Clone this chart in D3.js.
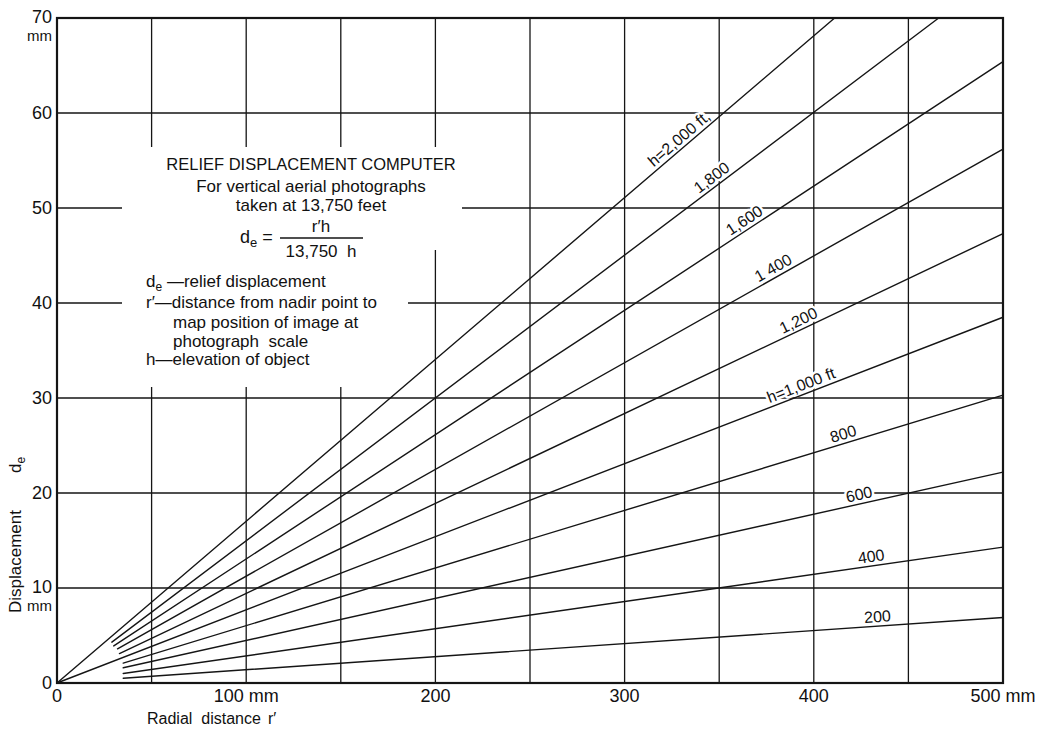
<!DOCTYPE html>
<html><head><meta charset="utf-8">
<script src="https://cdn.jsdelivr.net/npm/d3@7"></script>
<style>
body{margin:0;background:#fff}
svg{display:block}
text{font-family:"Liberation Sans",Arial,Helvetica,sans-serif;fill:#111;white-space:pre}
</style>
</head><body>
<svg id="c" width="1040" height="730"></svg>
<script>
// ---- data ----
const heights = [2000,1800,1600,1400,1200,1000,800,600,400,200];
const lineLabels = ["h=2,000 ft,","1,800","1,600","1 400","1,200","h=1,000 ft","800","600","400","200"];
const startR = [0,29,30,32,33,0,35,35,35,35];
const startD = [0,4.3,3.9,3.6,3.1,0,2.1,1.6,1.0,0.5];
const endR   = [411,466,500,500,500,500,500,500,500,500];
const endD   = [70,70,65.4,56.2,47.3,38.5,30.3,22.2,14.3,6.9];
const labelR = [332,349,366,381,394,395,417,425,431,434];

const xTicks = [0,100,200,300,400,500];
const xTickLabels = ["0","100 mm","200","300","400","500 mm"];
const yTicks = [0,10,20,30,40,50,60,70];
const yTickLabels = ["0","10","20","30","40","50","60","70"];
const gridR = [50,100,150,200,250,300,350,400,450];
const gridD = [10,20,30,40,50,60];

const titleLines = ["RELIEF DISPLACEMENT COMPUTER","For vertical aerial photographs","taken at 13,750 feet"];
const defLines = [
  {sym:"d", sub:"e", txt:" \u2014relief displacement", indent:false},
  {sym:"r\u2032", sub:"", txt:"\u2014distance from nadir point to", indent:false},
  {sym:"", sub:"", txt:"map position of image at", indent:true},
  {sym:"", sub:"", txt:"photograph  scale", indent:true},
  {sym:"h", sub:"", txt:"\u2014elevation of object", indent:false}
];

// ---- layout ----
const svg = d3.select("#c");
const x = d3.scaleLinear().domain([0,500]).range([57,1003]);
const y = d3.scaleLinear().domain([0,70]).range([683,18]);
const ink = "#151515";

// grid
svg.append("g").selectAll("line").data(gridR).join("line")
  .attr("x1",d=>x(d)).attr("x2",d=>x(d)).attr("y1",y(0)).attr("y2",y(70))
  .attr("stroke",ink).attr("stroke-width",1.3);
svg.append("g").selectAll("line").data(gridD).join("line")
  .attr("x1",x(0)).attr("x2",x(500)).attr("y1",d=>y(d)).attr("y2",d=>y(d))
  .attr("stroke",ink).attr("stroke-width",1.3);

// white area behind the explanatory text
svg.append("rect").attr("x",122).attr("y",147).attr("width",340).attr("height",103).attr("fill","#fff");
svg.append("rect").attr("x",122).attr("y",250).attr("width",286).attr("height",137).attr("fill","#fff");

// frame
svg.append("rect").attr("x",x(0)).attr("y",y(70)).attr("width",x(500)-x(0)).attr("height",y(0)-y(70))
  .attr("fill","none").attr("stroke",ink).attr("stroke-width",2.2);

// line labels (with white halo breaking the grid)
const lab = svg.append("g");
heights.forEach((h,i)=>{
  const x0=x(startR[i]), y0=y(startD[i]), x1=x(endR[i]), y1=y(endD[i]);
  const ang = Math.atan2(y1-y0, x1-x0)*180/Math.PI;
  const t = (labelR[i]-startR[i])/(endR[i]-startR[i]);
  const d = startD[i] + (endD[i]-startD[i])*t;
  const g = lab.append("g").attr("transform",`translate(${x(labelR[i])},${y(d)}) rotate(${ang})`);
  g.append("text").attr("text-anchor","middle").attr("dy",-4).attr("font-size",16)
    .attr("stroke","#fff").attr("stroke-width",5).attr("stroke-linejoin","round").text(lineLabels[i]);
  g.append("text").attr("text-anchor","middle").attr("dy",-4).attr("font-size",16).text(lineLabels[i]);
});

// displacement lines
svg.append("g").selectAll("line").data(heights).join("line")
  .attr("x1",(h,i)=>x(startR[i])).attr("y1",(h,i)=>y(startD[i]))
  .attr("x2",(h,i)=>x(endR[i])).attr("y2",(h,i)=>y(endD[i]))
  .attr("stroke",ink).attr("stroke-width",1.4).attr("stroke-linecap","round");

// y tick labels
svg.append("g").selectAll("text").data(yTicks).join("text")
  .attr("x",52).attr("y",d=>y(d)).attr("dy",d=>(d===70||d===10)?"0.26em":"0.36em")
  .attr("text-anchor","end").attr("font-size",18)
  .text((d,i)=>yTickLabels[i]);
[70,10].forEach(v=>{
  svg.append("text").attr("x",52).attr("y",y(v)+23).attr("text-anchor","end").attr("font-size",15).text("mm");
});

// x tick labels
svg.append("g").selectAll("text").data(xTicks).join("text")
  .attr("x",d=>x(d)).attr("y",702).attr("text-anchor","middle").attr("font-size",18)
  .text((d,i)=>xTickLabels[i]);

// axis titles
svg.append("text").attr("x",147).attr("y",724).attr("font-size",16).text("Radial  distance");
svg.append("text").attr("x",268).attr("y",724).attr("font-size",16).text("r\u2032");
svg.append("text").attr("transform","translate(21,613) rotate(-90)").attr("font-size",17).text("Displacement");
const de = svg.append("text").attr("transform","translate(21,473) rotate(-90)").attr("font-size",17);
de.append("tspan").text("d");
de.append("tspan").attr("dy",4).attr("font-size",12).text("e");

// explanatory text block
const cx = 311;
const tb = svg.append("g");
[170,192,211].forEach((yy,i)=>{
  tb.append("text").attr("x",cx).attr("y",yy).attr("text-anchor","middle")
    .attr("font-size",i===0?16.5:17).text(titleLines[i]);
});
// formula
const f1 = tb.append("text").attr("x",240).attr("y",243).attr("font-size",18);
f1.append("tspan").text("d");
f1.append("tspan").attr("dy",4).attr("font-size",13).text("e");
f1.append("tspan").attr("dy",-4).text(" =");
tb.append("line").attr("x1",280).attr("x2",363).attr("y1",238).attr("y2",238).attr("stroke",ink).attr("stroke-width",1.3);
tb.append("text").attr("x",321).attr("y",232).attr("text-anchor","middle").attr("font-size",17).text("r\u2032h");
tb.append("text").attr("x",321).attr("y",257).attr("text-anchor","middle").attr("font-size",17).text("13,750  h");
// definitions
[287,308,328,347,365].forEach((yy,i)=>{
  const L = defLines[i];
  const t = tb.append("text").attr("x",L.indent?173:146).attr("y",yy).attr("font-size",17);
  if(L.sym) t.append("tspan").text(L.sym);
  if(L.sub){ t.append("tspan").attr("dy",4).attr("font-size",12).text(L.sub); t.append("tspan").attr("dy",-4).text(L.txt); }
  else t.append("tspan").text(L.txt);
});
</script>
</body></html>
